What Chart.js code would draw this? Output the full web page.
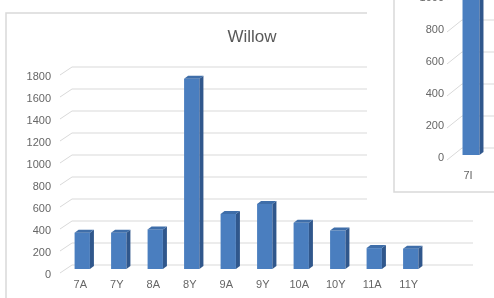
<!DOCTYPE html>
<html><head><meta charset="utf-8">
<script src="https://cdn.jsdelivr.net/npm/chart.js@4"></script>
<style>
html,body{margin:0;padding:0;background:#fff;overflow:hidden;width:494px;height:298px;}
#main{position:absolute;left:0;top:0;}
#wrap2{position:absolute;left:367px;top:-50px;width:200px;height:264px;background:#fff;}
#second{display:block;}
</style></head><body>
<canvas id="main" width="494" height="298"></canvas>
<div id="wrap2"><canvas id="second" width="200" height="264"></canvas></div>
<script>
// ---- data ----
const categories = ['7A','7Y','8A','8Y','9A','9Y','10A','10Y','11A','11Y'];
const willowValues = [330, 330, 360, 1730, 500, 590, 420, 350, 190, 185];
const yTicks = [0,200,400,600,800,1000,1200,1400,1600,1800];
const title = 'Willow';
const categories2 = ['7I'];
const values2 = [1150];
const yTicks2 = [0,200,400,600,800,1000,1200];

const FRONT = '#4a7ebf', SIDE = '#30578c', TOP = '#3f6ea9';
const GRID = '#d9d9d9', TXT = '#666666', FONT = 'Liberation Sans';

function bar3d(dx, dy){
  return {
    id:'bar3d',
    afterDatasetsDraw(chart){
      const ctx = chart.ctx;
      chart.getDatasetMeta(0).data.forEach(b=>{
        const x0 = b.x - b.width/2, x1 = b.x + b.width/2, y = b.y, base = b.base;
        ctx.save();
        ctx.fillStyle = SIDE;
        ctx.beginPath();
        ctx.moveTo(x1,y); ctx.lineTo(x1+dx,y-dy); ctx.lineTo(x1+dx,base-dy); ctx.lineTo(x1,base); ctx.closePath(); ctx.fill();
        ctx.fillStyle = TOP;
        ctx.beginPath();
        ctx.moveTo(x0,y); ctx.lineTo(x0+dx,y-dy); ctx.lineTo(x1+dx,y-dy); ctx.lineTo(x1,y); ctx.closePath(); ctx.fill();
        ctx.restore();
      });
    }
  };
}
function walls(front, back, rightExt, border){
  return {
    id:'walls',
    beforeDraw(chart){
      const ctx = chart.ctx, ys = chart.scales.y, a = chart.chartArea;
      ctx.save();
      if(border) border(ctx);
      ctx.strokeStyle = GRID; ctx.lineWidth = 1;
      ys.ticks.forEach(t=>{
        const p = ys.getPixelForValue(t.value);
        ctx.beginPath();
        ctx.moveTo(a.left+front[0], p+front[1]);
        ctx.lineTo(a.left+back[0], p+back[1]);
        ctx.lineTo(rightExt(a), p+back[1]);
        ctx.stroke();
      });
      ctx.restore();
    }
  };
}
const titlePlugin = {
  id:'ttl',
  afterDraw(chart){
    const ctx = chart.ctx;
    ctx.save();
    ctx.fillStyle = '#595959';
    ctx.font = '17px "'+FONT+'"';
    ctx.textAlign = 'center'; ctx.textBaseline = 'middle';
    ctx.fillText(title, 252, 37);
    ctx.restore();
  }
};
const plain = v => String(v);

new Chart(document.getElementById('main'), {
  type:'bar',
  data:{labels:categories, datasets:[{data:willowValues, backgroundColor:FRONT, borderWidth:0, barPercentage:1, categoryPercentage:0.42}]},
  options:{
    responsive:false, animation:false,
    layout:{padding:{left:14, right:65, top:71, bottom:0}},
    plugins:{legend:{display:false}, tooltip:{enabled:false}, title:{display:false}},
    scales:{
      x:{grid:{display:false, drawTicks:false}, border:{display:false},
         ticks:{color:TXT, font:{family:FONT, size:11}, padding:9, labelOffset:-2, maxRotation:0},
         afterFit(s){ s.height = 29; }},
      y:{min:0, max:1800, afterBuildTicks(s){ s.ticks = yTicks.map(v=>({value:v})); },
         grid:{display:false, drawTicks:false}, border:{display:false},
         ticks:{color:TXT, font:{family:FONT, size:11}, padding:13, labelOffset:6, callback:plain},
         afterFit(s){ s.width = 50; s.paddingTop = 0; s.paddingBottom = 0; }}
    }
  },
  plugins:[walls([-4,4],[8,-4], a=>a.right+44, ctx=>{
    ctx.strokeStyle = GRID; ctx.lineWidth = 1.5;
    ctx.beginPath(); ctx.moveTo(6, 320); ctx.lineTo(6, 13); ctx.lineTo(520, 13); ctx.stroke();
  }), bar3d(4,3), titlePlugin]
});

new Chart(document.getElementById('second'), {
  type:'bar',
  data:{labels:categories2, datasets:[{data:values2, backgroundColor:FRONT, borderWidth:0, barPercentage:1, categoryPercentage:0.53}]},
  options:{
    responsive:false, animation:false,
    layout:{padding:{left:0, right:80, top:13, bottom:0}},
    plugins:{legend:{display:false}, tooltip:{enabled:false}, title:{display:false}},
    scales:{
      x:{grid:{display:false, drawTicks:false}, border:{display:false},
         ticks:{color:TXT, font:{family:FONT, size:11}, padding:14, labelOffset:-3},
         afterFit(s){ s.height = 59; }},
      y:{min:0, max:1200, afterBuildTicks(s){ s.ticks = yTicks2.map(v=>({value:v})); },
         ticks:{color:TXT, font:{family:FONT, size:11}, padding:11, labelOffset:3, callback:plain},
         grid:{display:false, drawTicks:false}, border:{display:false},
         afterFit(s){ s.width = 88; s.paddingTop = 0; s.paddingBottom = 0; }}
    }
  },
  plugins:[walls([-8,5],[7,-7], a=>300, ctx=>{
    ctx.strokeStyle = GRID; ctx.lineWidth = 1.5;
    ctx.beginPath(); ctx.moveTo(27, 0); ctx.lineTo(27, 242); ctx.lineTo(300, 242); ctx.stroke();
  }), bar3d(4,3)]
});
</script></body></html>
